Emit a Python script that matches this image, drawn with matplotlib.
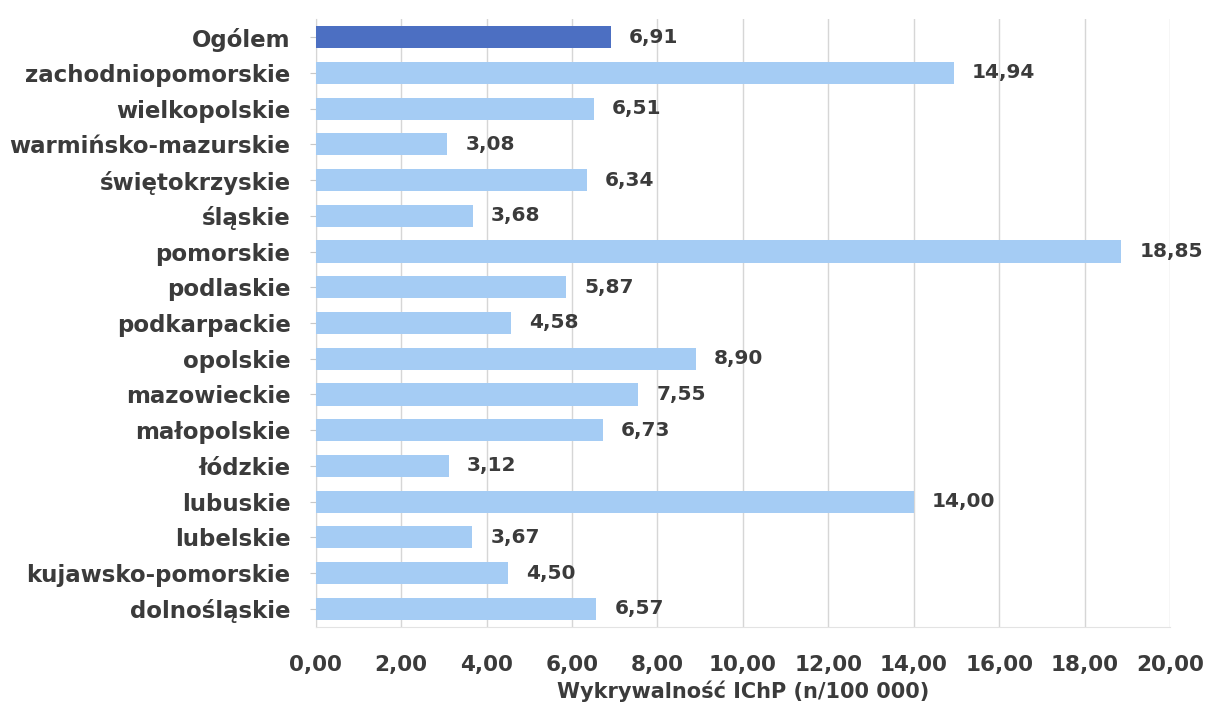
import matplotlib.pyplot as plt

# data (top to bottom as in the chart)
regions = ["Ogólem", "zachodniopomorskie", "wielkopolskie", "warmińsko-mazurskie",
           "świętokrzyskie", "śląskie", "pomorskie", "podlaskie", "podkarpackie",
           "opolskie", "mazowieckie", "małopolskie", "łódzkie", "lubuskie",
           "lubelskie", "kujawsko-pomorskie", "dolnośląskie"]
values = [6.91, 14.94, 6.51, 3.08, 6.34, 3.68, 18.85, 5.87, 4.58,
          8.90, 7.55, 6.73, 3.12, 14.00, 3.67, 4.50, 6.57]
x_ticks = [0, 2, 4, 6, 8, 10, 12, 14, 16, 18, 20]
x_label = "Wykrywalność IChP (n/100 000)"

text_col = "#3b3b3b"
light = "#a5ccf4"
dark = "#4c6fc2"

plt.rcParams["font.family"] = ["DejaVu Sans"]
plt.rcParams["font.weight"] = "bold"

fig = plt.figure(figsize=(12.09, 7.13), dpi=100)
ax = fig.add_axes([0.261, 0.121, 0.707, 0.852])

n = len(regions)
ypos = list(range(n))
colors = [dark] + [light] * (n - 1)
bars = ax.barh(ypos, values, height=0.62, color=colors, zorder=3)

for y, v in zip(ypos, values):
    ax.annotate(f"{v:.2f}".replace(".", ","), (v, y), xytext=(13, 0),
                textcoords="offset points", ha="left", va="center",
                fontsize=14.5, fontweight="bold", color=text_col)

ax.set_ylim(n - 0.5, -0.5)
ax.set_xlim(0, 20)
ax.set_yticks(ypos)
ax.set_yticklabels(regions)
ax.set_xticks(x_ticks)
ax.set_xticklabels([f"{t:.2f}".replace(".", ",") for t in x_ticks])

ax.tick_params(axis="y", length=4, color="#c8c8c8", pad=14, labelsize=16.5,
               labelcolor=text_col)
ax.tick_params(axis="x", length=0, pad=20, labelsize=15.5, labelcolor=text_col)
for lab in ax.get_xticklabels() + ax.get_yticklabels():
    lab.set_fontweight("bold")

ax.set_xlabel(x_label, fontsize=15, fontweight="bold", color=text_col, labelpad=4)

ax.grid(axis="x", color="#d6d6d6", linewidth=1, zorder=0)
for s in ["top", "right"]:
    ax.spines[s].set_visible(False)
ax.spines["left"].set_color("#d5d5d5")
ax.spines["bottom"].set_color("#e3e3e3")

fig.savefig("out.png", dpi=100)
